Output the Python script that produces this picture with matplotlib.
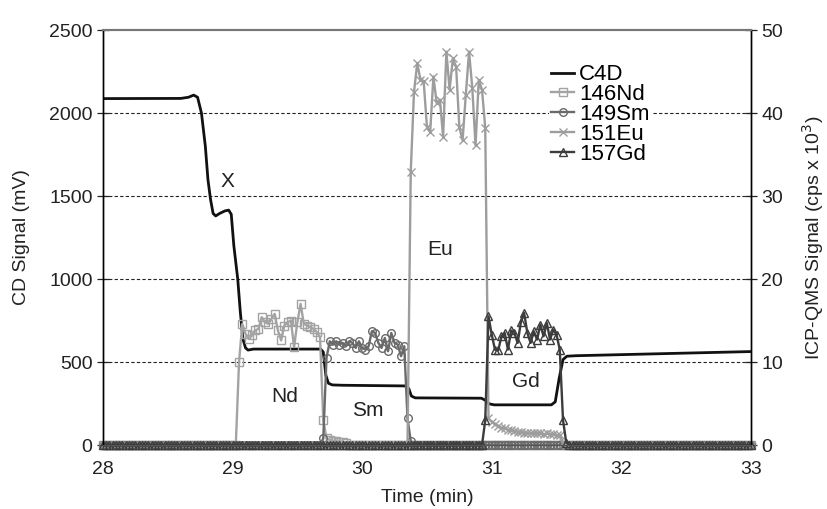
"""C4D / ICP-QMS chromatogram of the lanthanide fractions (Nd, Sm, Eu, Gd)."""

import numpy as np
import matplotlib
matplotlib.use('Agg')
import matplotlib.pyplot as plt

plt.rcParams['font.family'] = ['Liberation Sans', 'DejaVu Sans']

# C4D trace, vertices (time in min, signal in mV)
c4d_t = [28.00, 28.60, 28.66, 28.70, 28.73, 28.76, 28.79, 28.81, 28.83, 28.85,
         28.87, 28.90, 28.94, 28.97, 28.99, 29.01, 29.04, 29.06, 29.08, 29.10,
         29.12, 29.16, 29.68, 29.70, 29.72, 29.74, 29.77, 29.85, 30.33, 30.36,
         30.38, 30.41, 30.92, 30.95, 30.98, 31.02, 31.46, 31.49, 31.52, 31.55,
         31.58, 31.65, 33.00]
c4d_mv = [2087, 2088, 2095, 2108, 2095, 2000, 1800, 1600, 1480, 1395,
          1380, 1395, 1410, 1415, 1390, 1200, 1000, 800, 640, 585,
          572, 578, 578, 560, 420, 372, 362, 360, 356, 340,
          295, 284, 282, 270, 248, 242, 242, 260, 400, 515,
          535, 538, 563]

# ICP-QMS sampling: one reading every 0.025 min from 28 to 33 min
dt = 0.025
n_pts = 201

# peak readings (cps x 10^3), first index of each run
nd_start = 42
nd_vals = [10.0, 14.6, 13.4, 12.8, 13.2, 13.8, 14.0, 15.4, 14.8, 14.6,
           15.2, 15.8, 13.8, 12.6, 14.4, 14.8, 15.0, 11.8, 14.8, 17.0,
           14.6, 14.4, 14.2, 14.0, 13.6, 13.0, 3.0, 0.8, 0.6, 0.5,
           0.5, 0.4, 0.4, 0.3]

sm_start = 68
sm_vals = [0.8, 10.5, 12.5, 12.1, 12.5, 12.1, 12.3, 11.9, 12.5, 12.3,
           11.7, 12.5, 11.7, 11.5, 11.9, 13.7, 13.5, 12.3, 11.7, 12.9,
           11.3, 13.5, 12.3, 12.1, 10.7, 11.9, 3.2, 0.5]

eu_start = 95
eu_vals = [32.9, 42.5, 46.0, 44.0, 43.8, 38.3, 37.7, 44.4, 41.2, 41.6,
           37.1, 47.4, 42.8, 46.6, 45.6, 38.3, 36.7, 42.2, 47.4, 43.0,
           36.1, 44.0, 42.8, 38.2, 3.2, 2.8, 2.5, 2.3, 2.1, 2.0,
           1.8, 1.8, 1.7, 1.6, 1.6, 1.5, 1.5, 1.4, 1.5, 1.4,
           1.4, 1.3, 1.4, 1.3, 1.3, 1.2, 1.2, 0.3]

gd_start = 118
gd_vals = [3.0, 15.5, 13.3, 11.5, 11.4, 13.1, 13.5, 11.5, 13.8, 13.5,
           12.3, 14.8, 15.9, 13.5, 12.3, 13.7, 12.7, 14.5, 13.1, 14.7,
           12.7, 13.9, 13.3, 11.5, 3.0, 0.3]

labels = ['C4D', '146Nd', '149Sm', '151Eu', '157Gd']
peak_names = ['X', 'Nd', 'Sm', 'Eu', 'Gd']
peak_t = [28.96, 29.40, 30.04, 30.60, 31.26]
peak_mv = [1590, 295, 205, 1180, 385]

t_icp = np.round(28 + dt * np.arange(n_pts), 4)


def trace(start, vals):
    y = np.zeros(n_pts)
    y[start:start + len(vals)] = vals
    return y


fig = plt.figure(figsize=(8.27, 5.09), dpi=100)
ax = fig.add_axes([0.1245, 0.1257, 0.7835, 0.8153])
ax2 = ax.twinx()

for v in [500, 1000, 1500, 2000]:
    ax.axhline(v, color='#222222', lw=0.8, ls=(0, (3, 2)), zorder=0)

c4d_line, = ax.plot(c4d_t, c4d_mv, color='#111111', lw=2.0, zorder=3)

style = dict(lw=1.7, ms=6, clip_on=False)
nd_line, = ax2.plot(t_icp, trace(nd_start, nd_vals), color='#a3a3a3',
                    marker='s', mfc='none', mew=1.0, **style)
sm_line, = ax2.plot(t_icp, trace(sm_start, sm_vals), color='#6a6a6a',
                    marker='o', mfc='none', mew=1.0, lw=1.7, ms=5.5, clip_on=False)
eu_line, = ax2.plot(t_icp, trace(eu_start, eu_vals), color='#9d9d9d',
                    marker='x', mew=1.0, **style)
gd_line, = ax2.plot(t_icp, trace(gd_start, gd_vals), color='#3c3c3c',
                    marker='^', mfc='none', mew=1.0, lw=1.7, ms=5.5, clip_on=False)

for name, tt, mv in zip(peak_names, peak_t, peak_mv):
    ax.text(tt, mv, name, fontsize=15, ha='center', va='center', color='#222222')

ax.set_xlim(28, 33)
ax.set_ylim(0, 2500)
ax2.set_ylim(0, 50)
ax.set_xticks([28, 29, 30, 31, 32, 33])
ax.set_yticks([0, 500, 1000, 1500, 2000, 2500])
ax2.set_yticks([0, 10, 20, 30, 40, 50])

for a in (ax, ax2):
    a.tick_params(axis='y', direction='inout', length=8, width=0.9,
                  labelsize=14, colors='#222222')
    a.spines['top'].set_color('#777777')
    a.spines['top'].set_linewidth(1.5)
    a.spines['left'].set_linewidth(1.0)
    a.spines['right'].set_linewidth(1.0)
    a.spines['bottom'].set_color('#555555')
ax.tick_params(axis='x', direction='inout', length=5, width=0.9,
               labelsize=14, colors='#222222', pad=9)

ax.set_xlabel('Time (min)', fontsize=14, color='#222222', labelpad=8)
ax.set_ylabel('CD Signal (mV)', fontsize=14, color='#222222', labelpad=14)
ax2.set_ylabel('ICP-QMS Signal (cps x 10$^3$)', fontsize=14, color='#222222',
               labelpad=12)

leg = ax2.legend([c4d_line, nd_line, sm_line, eu_line, gd_line], labels,
                 loc='upper left', bbox_to_anchor=(0.6636, 0.878),
                 bbox_transform=fig.transFigure, frameon=True, fontsize=16,
                 handlelength=1.05, handletextpad=0.2, labelspacing=-0.05,
                 borderpad=0.1, borderaxespad=0)
leg.get_frame().set_facecolor('white')
leg.get_frame().set_edgecolor('none')
leg.get_frame().set_alpha(1.0)

fig.savefig('out.png', dpi=100)
